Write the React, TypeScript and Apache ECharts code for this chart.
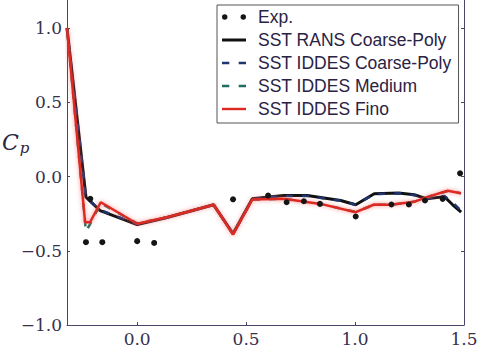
import React, { useEffect, useRef } from "react";
import * as echarts from "echarts";

const xTicks = [0, 0.5, 1.0, 1.5];
const yTicks = [-1.0, -0.5, 0.0, 0.5, 1.0];

const expPoints: [number, number][] = [
  [-0.235, -0.442], [-0.215, -0.15], [-0.16, -0.442], [0.0, -0.435], [0.078, -0.447],
  [0.44, -0.153], [0.601, -0.128], [0.686, -0.173], [0.765, -0.166], [0.839, -0.184],
  [1.003, -0.269], [1.167, -0.188], [1.247, -0.188], [1.321, -0.161], [1.402, -0.15],
  [1.482, 0.022],
];

const ransCoarse: [number, number][] = [
  [-0.322, 1.0], [-0.235, -0.139], [-0.17, -0.229], [0.0, -0.323], [0.137, -0.276],
  [0.351, -0.19], [0.44, -0.385], [0.528, -0.15], [0.673, -0.128], [0.781, -0.128],
  [0.934, -0.161], [1.003, -0.19], [1.088, -0.115], [1.2, -0.11], [1.272, -0.122],
  [1.33, -0.15], [1.41, -0.135], [1.448, -0.19], [1.487, -0.24],
];

const iddesCoarse: [number, number][] = [
  [-0.322, 1.0], [-0.235, -0.14], [-0.17, -0.225], [0.0, -0.32], [0.137, -0.275],
  [0.351, -0.19], [0.44, -0.385], [0.528, -0.152], [0.673, -0.13], [0.781, -0.13],
  [0.934, -0.163], [1.003, -0.19], [1.088, -0.118], [1.2, -0.112], [1.272, -0.125],
  [1.33, -0.148], [1.41, -0.13], [1.448, -0.175], [1.487, -0.23],
];

const iddesMedium: [number, number][] = [
  [-0.322, 1.0], [-0.235, -0.37], [-0.216, -0.32], [-0.167, -0.18], [0.0, -0.315],
  [0.137, -0.274], [0.351, -0.19], [0.44, -0.388], [0.528, -0.155], [0.673, -0.15],
  [0.842, -0.184], [1.003, -0.238], [1.088, -0.19], [1.164, -0.19], [1.27, -0.17],
  [1.348, -0.13], [1.425, -0.098], [1.486, -0.112],
];

const iddesFine: [number, number][] = [
  [-0.322, 1.0], [-0.239, -0.307], [-0.216, -0.307], [-0.167, -0.173], [0.0, -0.318],
  [0.137, -0.274], [0.351, -0.19], [0.44, -0.39], [0.528, -0.155], [0.673, -0.15],
  [0.842, -0.184], [1.003, -0.24], [1.088, -0.188], [1.164, -0.19], [1.27, -0.17],
  [1.348, -0.13], [1.425, -0.095], [1.486, -0.112],
];

const names = [
  "Exp.",
  "SST RANS Coarse-Poly",
  "SST IDDES Coarse-Poly",
  "SST IDDES Medium",
  "SST IDDES Fino",
];

const fmt = (v: number) => v.toFixed(1).replace("-", "\u2212");
const axisColor = "#4b4468";
const labelColor = "#35304f";
const serif = "DejaVu Serif";

const iconDots = "path://M0.5,5a2.5,2.5 0 1,0 5,0a2.5,2.5 0 1,0 -5,0zM17.5,5a2.5,2.5 0 1,0 5,0a2.5,2.5 0 1,0 -5,0z";
const iconSolidThick = "path://M0,0h24v3h-24z";
const iconSolid = "path://M0,0h24v2.4h-24z";
const iconDash = "path://M0,0h7v2.6h-7zM16,0h7v2.6h-7z";

export default function App() {
  const ref = useRef<HTMLDivElement>(null);
  useEffect(() => {
    if (!ref.current) return;
    const chart = echarts.init(ref.current, null, { renderer: "svg" });
    chart.setOption({
      animation: false,
      backgroundColor: "#ffffff",
      grid: { left: 67, right: 30, top: 0, bottom: 37, containLabel: false },
      xAxis: {
        type: "value",
        min: -0.322,
        max: 1.5,
        axisLine: { show: true, onZero: false, lineStyle: { color: axisColor, width: 1 } },
        axisTick: { show: true, inside: true, length: 3, customValues: xTicks, lineStyle: { color: axisColor } },
        axisLabel: {
          customValues: xTicks,
          formatter: fmt,
          fontFamily: serif,
          fontSize: 17,
          color: labelColor,
          margin: 5,
        },
        splitLine: { show: false },
      },
      yAxis: [
        {
          type: "value",
          min: -1.0,
          max: 1.19,
          axisLine: { show: true, onZero: false, lineStyle: { color: axisColor, width: 1 } },
          axisTick: { show: true, inside: true, length: 3, customValues: yTicks, lineStyle: { color: axisColor } },
          axisLabel: {
            customValues: yTicks,
            formatter: fmt,
            fontFamily: serif,
            fontSize: 17,
            color: labelColor,
            margin: 5,
          },
          splitLine: { show: false },
        },
        {
          type: "value",
          position: "right",
          min: -1.0,
          max: 1.19,
          axisLine: { show: true, onZero: false, lineStyle: { color: axisColor, width: 1 } },
          axisTick: { show: true, inside: true, length: 3, customValues: yTicks, lineStyle: { color: axisColor } },
          axisLabel: { show: false },
          splitLine: { show: false },
        },
      ],
      legend: {
        orient: "vertical",
        left: 217,
        top: 5,
        backgroundColor: "#ffffff",
        borderColor: "#555555",
        borderWidth: 1,
        borderRadius: 0,
        padding: [3, 7, 5, 5],
        itemWidth: 24,
        itemHeight: 10,
        itemGap: 5,
        textStyle: {
          fontFamily: "Liberation Sans",
          fontSize: 17.5,
          color: "#2a2244",
          lineHeight: 17,
          padding: [0, 0, 0, 7],
        },
        data: [
          { name: names[0], icon: iconDots },
          { name: names[1], icon: iconSolidThick },
          { name: names[2], icon: iconDash },
          { name: names[3], icon: iconDash },
          { name: names[4], icon: iconSolid },
        ],
      },
      graphic: [
        {
          type: "text",
          left: 2,
          top: 131,
          style: {
            text: "{c|C}{p|p}",
            rich: {
              c: { fontFamily: serif, fontStyle: "italic", fontSize: 22, fill: "#2a2540" },
              p: { fontFamily: serif, fontStyle: "italic", fontSize: 15, fill: "#2a2540", padding: [12, 0, 0, 1] },
            },
          },
        },
      ],
      series: [
        {
          name: names[1],
          type: "line",
          data: ransCoarse,
          symbol: "none",
          lineStyle: { color: "#111111", width: 3 },
          itemStyle: { color: "#111111" },
          z: 2,
        },
        {
          name: names[2],
          type: "line",
          data: iddesCoarse,
          symbol: "none",
          lineStyle: { color: "#1f3470", width: 2.5, type: [7, 9] },
          itemStyle: { color: "#1f3470" },
          z: 3,
        },
        {
          name: names[3],
          type: "line",
          data: iddesMedium,
          symbol: "none",
          lineStyle: { color: "#1f6e62", width: 2.5, type: [7, 9] },
          itemStyle: { color: "#1f6e62" },
          z: 3,
        },
        {
          name: names[4],
          type: "line",
          data: iddesFine,
          symbol: "none",
          lineStyle: {
            color: "#dc2a22",
            width: 2.5,
            shadowBlur: 4,
            shadowColor: "rgba(255,90,90,0.7)",
          },
          itemStyle: { color: "#dc2a22" },
          z: 4,
        },
        {
          name: names[0],
          type: "scatter",
          data: expPoints,
          symbol: "circle",
          symbolSize: 6,
          symbolKeepAspect: true,
          itemStyle: { color: "#151515", opacity: 1 },
          z: 5,
        },
      ],
    });
    return () => chart.dispose();
  }, []);
  return (
    <div
      ref={ref}
      style={{ position: "absolute", left: 0, top: 0, width: 494, height: 362 }}
    />
  );
}
